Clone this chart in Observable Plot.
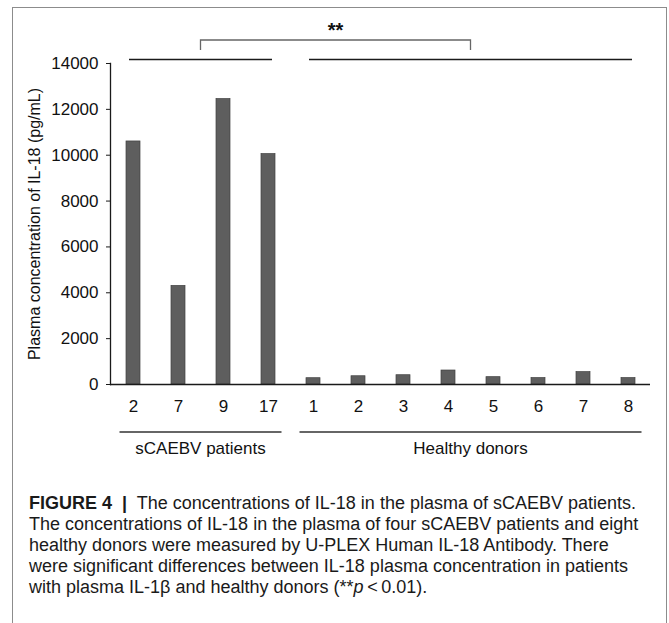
<!DOCTYPE html>
<html>
<head>
<meta charset="utf-8">
<script src="https://cdn.jsdelivr.net/npm/d3@7"></script>
<script src="https://cdn.jsdelivr.net/npm/@observablehq/plot@0.6"></script>
<style>
  html, body { margin: 0; padding: 0; background: #fff; }
  body { width: 669px; height: 623px; position: relative; overflow: hidden; font-family: "Liberation Sans", Arial, sans-serif; }
  #frame { position: absolute; left: 12px; top: 7px; width: 655px; height: 640px; border: 1.5px solid #8c8c8c; box-sizing: border-box; }
  #chart { position: absolute; left: 0; top: 0; }
  #caption { position: absolute; left: 29px; top: 493px; width: 636px; font-size: 18px; line-height: 21px; color: #1a1a1a; white-space: nowrap; }
  #caption b { font-weight: bold; }
</style>
</head>
<body>
<div id="frame"></div>
<div id="chart"></div>
<div id="caption"><b>FIGURE 4 &nbsp;|&nbsp;</b> The concentrations of IL-18 in the plasma of sCAEBV patients.<br>The concentrations of IL-18 in the plasma of four sCAEBV patients and eight<br>healthy donors were measured by U-PLEX Human IL-18 Antibody. There<br>were significant differences between IL-18 plasma concentration in patients<br>with plasma IL-1β and healthy donors (**<i>p</i>&thinsp;&lt;&thinsp;0.01).</div>
<script>
const categories = ["2", "7", "9", "17", "1", "2", "3", "4", "5", "6", "7", "8"];
const groups = ["sCAEBV patients", "sCAEBV patients", "sCAEBV patients", "sCAEBV patients",
  "Healthy donors", "Healthy donors", "Healthy donors", "Healthy donors",
  "Healthy donors", "Healthy donors", "Healthy donors", "Healthy donors"];
const values = [10600, 4300, 12450, 10050, 275, 360, 405, 610, 320, 280, 540, 280];
const yTicks = [0, 2000, 4000, 6000, 8000, 10000, 12000, 14000];
const groupNames = ["sCAEBV patients", "Healthy donors"];
const yLabel = "Plasma concentration of IL-18 (pg/mL)";
const significance = "**";

const data = categories.map((c, i) => ({key: groups[i] + "|" + c, label: c, group: groups[i], value: values[i]}));
const keys = data.map(d => d.key);
const labelOf = new Map(data.map(d => [d.key, d.label]));

const plot = Plot.plot({
  width: 669,
  height: 470,
  marginLeft: 110,
  marginRight: 19,
  marginTop: 63,
  marginBottom: 86,
  style: {fontFamily: "Liberation Sans, Arial, sans-serif", fontSize: "17px", color: "#111", background: "transparent", overflow: "visible"},
  x: {domain: keys, paddingInner: 0.7, paddingOuter: 0.35, label: null},
  y: {domain: [0, 14000]},
  marks: [
    Plot.barY(data, {x: "key", y: "value", fill: "#5e5e5e", stroke: "#404040", strokeWidth: 0.7}),
    Plot.ruleY([0], {stroke: "#1a1a1a", strokeWidth: 1.3}),
    Plot.frame({anchor: "left", stroke: "#1a1a1a", strokeWidth: 1.3}),
    Plot.axisY({ticks: yTicks, tickSize: 4, tickPadding: 8, fontSize: 17, tickFormat: d => String(d),
      label: yLabel, labelAnchor: "center", labelArrow: "none", labelOffset: 82, stroke: "#1a1a1a"}),
    Plot.axisX({tickSize: 0, tickPadding: 15, fontSize: 17, tickFormat: k => labelOf.get(k), label: null})
  ]
});
document.getElementById("chart").appendChild(plot);
d3.select(plot).selectAll("g[aria-label='y-axis label'] text").attr("font-size", 16);

// annotations positioned with the plot's own scales
const xs = plot.scale("x");
const ys = plot.scale("y");
const bw = xs.bandwidth;
const step = xs.step;
const svg = d3.select(plot);
const g = svg.append("g");
const yTop = ys.apply(14000);
const yBase = ys.apply(0);
groupNames.forEach((name, gi) => {
  const ks = data.filter(d => d.group === name).map(d => d.key);
  const c0 = xs.apply(ks[0]) + bw / 2;
  const c1 = xs.apply(ks[ks.length - 1]) + bw / 2;
  g.append("line").attr("x1", c0 - 4).attr("x2", c1 + 4)
    .attr("y1", yTop - 3.5).attr("y2", yTop - 3.5)
    .attr("stroke", "#1a1a1a").attr("stroke-width", 1.5);
  g.append("line").attr("x1", c0 - step * 0.3).attr("x2", c1 + step * 0.3)
    .attr("y1", yBase + 48).attr("y2", yBase + 48)
    .attr("stroke", "#333").attr("stroke-width", 1.3);
  g.append("text").attr("x", (c0 + c1) / 2).attr("y", yBase + 64)
    .attr("text-anchor", "middle").attr("dy", "0.35em")
    .attr("font-size", 17).attr("fill", "#111").text(name);
});
const gc = groupNames.map(name => {
  const ks = data.filter(d => d.group === name).map(d => d.key);
  return ((xs.apply(ks[0]) - 4) + (xs.apply(ks[ks.length - 1]) + bw + 4)) / 2;
});
g.append("path")
  .attr("d", `M${gc[0]},${yTop - 13}V${yTop - 23}H${gc[1]}V${yTop - 13}`)
  .attr("fill", "none").attr("stroke", "#666").attr("stroke-width", 1.3);
g.append("text").attr("x", (gc[0] + gc[1]) / 2).attr("y", yTop - 33)
  .attr("text-anchor", "middle").attr("dy", "0.35em")
  .attr("font-size", 20).attr("font-weight", "bold").attr("fill", "#111").text(significance);
</script>
</body>
</html>
